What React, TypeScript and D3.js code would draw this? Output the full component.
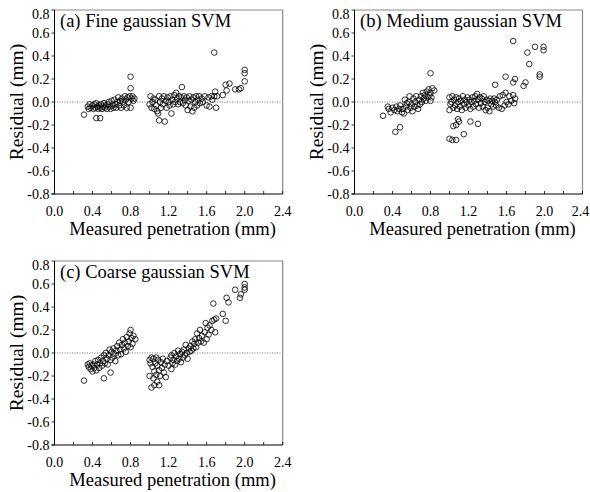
import React, { useEffect, useRef } from "react";
import * as d3 from "d3";

type P = [number, number];

const panelTitles = ["(a) Fine gaussian SVM", "(b) Medium gaussian SVM", "(c) Coarse gaussian SVM"];
const xTickValues = [0, 0.4, 0.8, 1.2, 1.6, 2.0, 2.4];
const yTickValues = [-0.8, -0.6, -0.4, -0.2, 0, 0.2, 0.4, 0.6, 0.8];
const xTitle = "Measured penetration (mm)";
const yTitle = "Residual (mm)";

const fineSVM: P[] = [
  [0.31, -0.11], [0.44, -0.14], [0.48, -0.14],
  [0.35, -0.04], [0.36, -0.06], [0.37, -0.02], [0.38, -0.05], [0.40, -0.03], [0.41, -0.06], [0.42, -0.02],
  [0.43, -0.05], [0.44, -0.01], [0.45, -0.04], [0.46, -0.06], [0.47, -0.03], [0.48, -0.05], [0.49, -0.02],
  [0.50, -0.06], [0.51, -0.04], [0.52, -0.01], [0.53, -0.05], [0.54, -0.03], [0.55, -0.06], [0.56, -0.02],
  [0.57, 0.0], [0.58, -0.04], [0.59, -0.06], [0.60, 0.01], [0.61, -0.03], [0.62, -0.05], [0.63, 0.02],
  [0.64, -0.02], [0.65, -0.05], [0.66, 0.0], [0.67, 0.04], [0.68, -0.03], [0.69, 0.01], [0.70, -0.05],
  [0.71, 0.03], [0.72, 0.0], [0.73, -0.03], [0.74, 0.05], [0.75, 0.02], [0.76, -0.05], [0.77, 0.04],
  [0.78, 0.0], [0.79, 0.05], [0.80, 0.22], [0.80, 0.12], [0.80, -0.05], [0.81, 0.03], [0.82, 0.05],
  [0.83, 0.01], [0.84, 0.03],
  [1.00, -0.02], [1.01, 0.05], [1.02, -0.05], [1.03, 0.0], [1.04, 0.03], [1.05, -0.06], [1.06, 0.02],
  [1.07, -0.03], [1.08, -0.08], [1.09, -0.1], [1.10, 0.05], [1.10, -0.16], [1.11, 0.0], [1.12, -0.05],
  [1.13, 0.03], [1.14, -0.02], [1.15, 0.05], [1.16, -0.17], [1.17, 0.01], [1.18, -0.05], [1.19, 0.04],
  [1.20, 0.0], [1.21, -0.03], [1.22, 0.05], [1.23, -0.1], [1.24, 0.02], [1.25, -0.02], [1.26, 0.06],
  [1.27, 0.0], [1.28, 0.08], [1.29, 0.03], [1.30, -0.02], [1.31, 0.05], [1.32, 0.0], [1.33, 0.04],
  [1.34, 0.13], [1.35, -0.01], [1.36, 0.05], [1.37, 0.02], [1.38, -0.03], [1.39, 0.04], [1.40, -0.07],
  [1.41, 0.01], [1.42, 0.05], [1.43, -0.04], [1.44, 0.02], [1.45, -0.08], [1.46, 0.04], [1.47, -0.05],
  [1.48, 0.0], [1.49, 0.05], [1.50, -0.03], [1.51, 0.02], [1.52, 0.05], [1.53, -0.01], [1.55, 0.03],
  [1.56, 0.0], [1.58, 0.05], [1.60, -0.03], [1.62, 0.04], [1.63, -0.04], [1.65, 0.05], [1.66, 0.02],
  [1.68, 0.43], [1.68, 0.05], [1.69, 0.09], [1.70, -0.05], [1.71, 0.05], [1.77, 0.06], [1.80, 0.15],
  [1.81, 0.10], [1.84, 0.16], [1.90, 0.11], [1.94, 0.11], [1.96, 0.12], [2.00, 0.28], [2.00, 0.25],
  [2.00, 0.18],
];

const mediumSVM: P[] = [
  [0.30, -0.12], [0.43, -0.26], [0.48, -0.22],
  [0.35, -0.04], [0.36, -0.06], [0.38, -0.09], [0.40, -0.05], [0.42, -0.07], [0.44, -0.04], [0.45, -0.08],
  [0.47, -0.06], [0.48, -0.03], [0.50, -0.09], [0.51, -0.06], [0.52, -0.1], [0.53, 0.02], [0.54, -0.04],
  [0.55, -0.01], [0.56, -0.07], [0.57, 0.0], [0.58, 0.05], [0.59, -0.05], [0.60, -0.02], [0.61, -0.08],
  [0.62, 0.03], [0.63, -0.04], [0.64, 0.0], [0.65, 0.05], [0.66, -0.03], [0.67, -0.06], [0.68, 0.02],
  [0.69, -0.02], [0.70, 0.05], [0.71, 0.0], [0.72, 0.08], [0.73, 0.03], [0.74, 0.06], [0.75, 0.01],
  [0.76, 0.09], [0.77, 0.04], [0.78, 0.11], [0.79, 0.06], [0.80, 0.25], [0.80, 0.01], [0.80, 0.08],
  [0.81, 0.04], [0.82, 0.12], [0.84, 0.10],
  [1.00, 0.04], [1.00, -0.07], [1.01, -0.02], [1.02, 0.0], [1.03, 0.05], [1.04, -0.05], [1.05, 0.02],
  [1.06, -0.03], [1.07, 0.04], [1.08, -0.06], [1.09, 0.0], [1.10, 0.03], [1.11, -0.04], [1.12, 0.01],
  [1.13, -0.07], [1.14, 0.05], [1.15, -0.02], [1.16, 0.02], [1.17, -0.05], [1.18, 0.0], [1.19, 0.04],
  [1.20, -0.03], [1.21, 0.02], [1.22, -0.06], [1.23, 0.0], [1.24, 0.04], [1.25, -0.04], [1.26, 0.01],
  [1.27, 0.05], [1.28, -0.02], [1.29, 0.07], [1.30, 0.02], [1.31, -0.05], [1.32, 0.04], [1.33, -0.01],
  [1.34, 0.03], [1.35, -0.04], [1.36, 0.05], [1.37, 0.0], [1.38, -0.07], [1.39, 0.02], [1.40, -0.05],
  [1.41, 0.01], [1.42, -0.08], [1.43, 0.03], [1.44, -0.02], [1.45, 0.01], [1.46, -0.04], [1.47, 0.03],
  [1.48, 0.0], [1.49, -0.03], [1.50, 0.02], [1.52, -0.05], [1.53, 0.05], [1.55, -0.06], [1.56, 0.06],
  [1.58, -0.03], [1.59, 0.08], [1.60, 0.0], [1.62, -0.02], [1.63, 0.05], [1.65, 0.01], [1.67, 0.06],
  [1.68, -0.01], [1.69, 0.03],
  [1.00, -0.32], [1.03, -0.33], [1.07, -0.33], [1.15, -0.28], [1.04, -0.21], [1.07, -0.20], [1.09, -0.15],
  [1.10, -0.17], [1.22, -0.17], [1.30, -0.19],
  [1.48, 0.15], [1.59, 0.22], [1.67, 0.53], [1.67, 0.17], [1.69, 0.20], [1.82, 0.43], [1.84, 0.33],
  [1.78, 0.14], [1.80, 0.17], [1.90, 0.48], [1.95, 0.24], [1.95, 0.22], [1.99, 0.48], [1.99, 0.45],
];

const coarseSVM: P[] = [
  [0.31, -0.24], [0.35, -0.10], [0.36, -0.12], [0.37, -0.09], [0.38, -0.14], [0.39, -0.11], [0.40, -0.16],
  [0.41, -0.10], [0.42, -0.13], [0.43, -0.07], [0.44, -0.15], [0.45, -0.10], [0.46, -0.06], [0.47, -0.13],
  [0.48, -0.09], [0.49, -0.04], [0.50, -0.11], [0.51, -0.07], [0.52, -0.22], [0.52, -0.02], [0.53, -0.09],
  [0.54, 0.0], [0.55, -0.05], [0.56, -0.1], [0.57, -0.02], [0.58, 0.03], [0.59, -0.17], [0.59, -0.06],
  [0.60, 0.01], [0.61, -0.04], [0.62, 0.04], [0.63, -0.01], [0.64, -0.07], [0.65, 0.02], [0.66, 0.06],
  [0.67, -0.02], [0.68, 0.09], [0.69, 0.03], [0.70, -0.01], [0.71, 0.07], [0.72, 0.12], [0.73, 0.04],
  [0.74, 0.09], [0.75, 0.01], [0.76, 0.14], [0.77, 0.06], [0.78, 0.1], [0.79, 0.17], [0.80, 0.2],
  [0.80, 0.05], [0.81, 0.13], [0.82, 0.08], [0.83, 0.15], [0.85, 0.12],
  [1.00, -0.06], [1.00, -0.20], [1.01, -0.09], [1.02, -0.30], [1.02, -0.04], [1.03, -0.12], [1.04, -0.22],
  [1.04, -0.05], [1.05, -0.28], [1.05, -0.16], [1.06, -0.09], [1.07, -0.04], [1.07, -0.19], [1.08, -0.11],
  [1.08, -0.25], [1.09, -0.06], [1.10, -0.28], [1.10, -0.15], [1.11, -0.20], [1.12, -0.08], [1.13, -0.13],
  [1.14, -0.05], [1.15, -0.17], [1.16, -0.10], [1.17, -0.21], [1.18, -0.07], [1.20, -0.11], [1.22, -0.04],
  [1.23, -0.14], [1.23, -0.02], [1.24, -0.09], [1.25, -0.06], [1.26, 0.0], [1.27, -0.10], [1.28, -0.03],
  [1.29, -0.07], [1.30, 0.02], [1.31, -0.05], [1.32, -0.01], [1.33, -0.08], [1.34, 0.01], [1.35, -0.04],
  [1.36, 0.03], [1.37, -0.02], [1.38, 0.07], [1.39, 0.0], [1.40, -0.05], [1.41, 0.04], [1.42, 0.01],
  [1.43, 0.06], [1.44, 0.02], [1.45, 0.1], [1.46, 0.04], [1.47, 0.08], [1.48, 0.12], [1.49, 0.05],
  [1.50, 0.17], [1.51, 0.09], [1.52, 0.13], [1.53, 0.2], [1.54, 0.1], [1.55, 0.15], [1.57, 0.09],
  [1.58, 0.18], [1.59, 0.26], [1.60, 0.12], [1.61, 0.22], [1.62, 0.16], [1.63, 0.24], [1.65, 0.2],
  [1.66, 0.28], [1.67, 0.43], [1.68, 0.29], [1.69, 0.18], [1.70, 0.3], [1.77, 0.34], [1.80, 0.28],
  [1.81, 0.48], [1.83, 0.44], [1.90, 0.55], [1.95, 0.48], [1.96, 0.51], [2.00, 0.60], [2.00, 0.57],
  [2.00, 0.55],
];

const panelData = [fineSVM, mediumSVM, coarseSVM];

const layouts = [
  { x0: 54.5, x1: 282.7, yTop: 10, yBot: 194 },
  { x0: 354.5, x1: 582.5, yTop: 10, yBot: 194 },
  { x0: 54.5, x1: 282.7, yTop: 261, yBot: 445 },
];

const FONT = "'Liberation Serif', 'Times New Roman', serif";
const TICK_FS = 14;

export default function App() {
  const ref = useRef<SVGSVGElement>(null);
  useEffect(() => {
    const svg = d3.select(ref.current);
    svg.selectAll("*").remove();
    panelData.forEach((data, i) => {
      const L = layouts[i];
      const x = d3.scaleLinear().domain([0, 2.4]).range([L.x0, L.x1]);
      const y = d3.scaleLinear().domain([-0.8, 0.8]).range([L.yBot, L.yTop]);
      const g = svg.append("g");

      g.append("line")
        .attr("x1", L.x0).attr("x2", L.x1)
        .attr("y1", y(0)).attr("y2", y(0))
        .attr("stroke", "#333").attr("stroke-width", 0.7).attr("stroke-dasharray", "1,1.5");

      g.append("path")
        .attr("d", `M${L.x0},${L.yTop}H${L.x1}V${L.yBot}`)
        .attr("fill", "none").attr("stroke", "#8a8a8a").attr("stroke-width", 1.2);

      const xMinor = d3.range(0, 2.41, 0.2);
      g.selectAll(".xt").data(xMinor).enter().append("line")
        .attr("x1", (d) => x(d)).attr("x2", (d) => x(d))
        .attr("y1", L.yBot).attr("y2", L.yBot - 3)
        .attr("stroke", "#000").attr("stroke-width", 0.8);
      g.append("line")
        .attr("x1", L.x0 - 3).attr("x2", L.x1)
        .attr("y1", L.yBot).attr("y2", L.yBot)
        .attr("stroke", "#000").attr("stroke-width", 1);
      g.selectAll(".xl").data(xTickValues).enter().append("text")
        .attr("x", (d) => Math.min(x(d), 580.5)).attr("y", L.yBot + 21.5)
        .attr("text-anchor", "middle")
        .attr("font-family", FONT).attr("font-size", TICK_FS)
        .text((d) => d3.format(".1f")(d));

      g.append("line")
        .attr("x1", L.x0).attr("x2", L.x0)
        .attr("y1", L.yTop).attr("y2", L.yBot)
        .attr("stroke", "#000").attr("stroke-width", 1);
      g.selectAll(".yt").data(yTickValues).enter().append("line")
        .attr("x1", L.x0 - 3).attr("x2", L.x0)
        .attr("y1", (d) => y(d)).attr("y2", (d) => y(d))
        .attr("stroke", "#000").attr("stroke-width", 0.8);
      g.selectAll(".yl").data(yTickValues).enter().append("text")
        .attr("x", L.x0 - 5)
        .attr("y", (d) => Math.max(y(d), L.yTop + 3.5) + 5)
        .attr("text-anchor", "end")
        .attr("font-family", FONT).attr("font-size", TICK_FS)
        .text((d) => d3.format(".1f")(d).replace("−", "-"));

      g.append("text")
        .attr("x", (L.x0 + L.x1) / 2 + 4).attr("y", L.yBot + 41)
        .attr("text-anchor", "middle")
        .attr("font-family", FONT).attr("font-size", 18.5)
        .text(xTitle);
      g.append("text")
        .attr("transform", `translate(${L.x0 - 31.5},${(L.yTop + L.yBot) / 2}) rotate(-90)`)
        .attr("text-anchor", "middle")
        .attr("font-family", FONT).attr("font-size", 19.5)
        .text(yTitle);
      g.append("text")
        .attr("x", L.x0 + 5.5).attr("y", L.yTop + 17)
        .attr("font-family", FONT).attr("font-size", 18.5)
        .text(panelTitles[i]);

      g.selectAll(".pt").data(data).enter().append("circle")
        .attr("cx", (d) => x(d[0])).attr("cy", (d) => y(d[1]))
        .attr("r", 2.8)
        .attr("fill", "none").attr("stroke", "#000").attr("stroke-width", 0.8);
    });
  }, []);
  return (
    <svg
      ref={ref}
      width={590}
      height={492}
      style={{ position: "absolute", left: 0, top: 0, background: "#fff" }}
    />
  );
}
